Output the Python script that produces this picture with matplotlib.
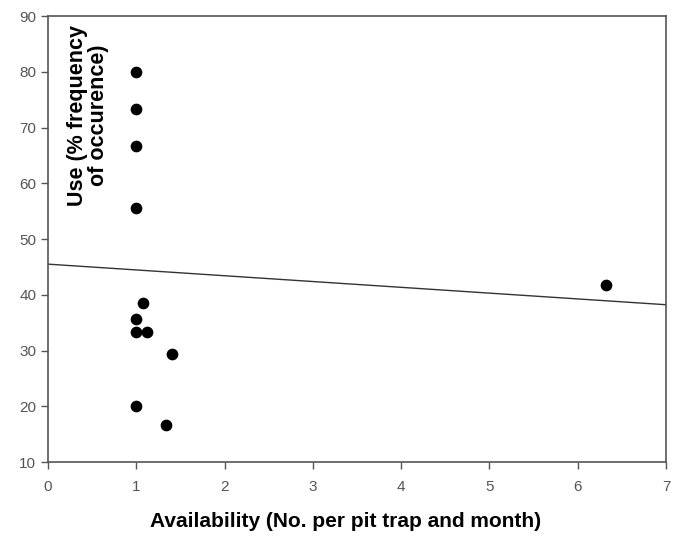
import numpy as np
import matplotlib
matplotlib.use("Agg")
import matplotlib.pyplot as plt

# availability (No. per pit trap and month) vs use (% frequency of occurence)
availability = [1.0, 1.0, 1.0, 1.0, 1.08, 1.0, 1.0, 1.12, 1.40, 1.0, 1.34, 6.32]
use = [80.0, 73.3, 66.7, 55.6, 38.5, 35.6, 33.3, 33.3, 29.4, 20.0, 16.7, 41.7]

# fitted line
intercept = 45.5
slope = -1.04

x_ticks = [0, 1, 2, 3, 4, 5, 6, 7]
y_ticks = [10, 20, 30, 40, 50, 60, 70, 80, 90]

plt.rcParams['font.family'] = ['Liberation Sans', 'DejaVu Sans']

fig = plt.figure(figsize=(6.8, 5.36), dpi=100)
ax = fig.add_axes([0.0706, 0.138, 0.9088, 0.832])

# regression line
xl = np.array([0, 7])
ax.plot(xl, intercept + slope * xl, color='#333333', linewidth=1.0)

ax.scatter(availability, use, s=55, color='black', zorder=3)

ax.set_xlim(0, 7)
ax.set_ylim(10, 90)
ax.set_xticks(x_ticks)
ax.set_yticks(y_ticks)

for sp in ax.spines.values():
    sp.set_color('#555555')
    sp.set_linewidth(1.2)
ax.tick_params(direction='out', length=5, width=1.0, color='#555555',
               labelcolor='#555555', labelsize=11)
ax.tick_params(axis='x', pad=8)

ax.set_xlabel('Availability (No. per pit trap and month)', fontsize=15,
              fontweight='bold')
ax.xaxis.set_label_coords(0.482, -0.112)

ax.text(0.065, 0.778, 'Use (% frequency\nof occurence)', transform=ax.transAxes,
        rotation=90, ha='center', va='center', multialignment='center',
        fontsize=15.5, fontweight='bold', linespacing=1.0)

fig.savefig('out.png', dpi=100)
